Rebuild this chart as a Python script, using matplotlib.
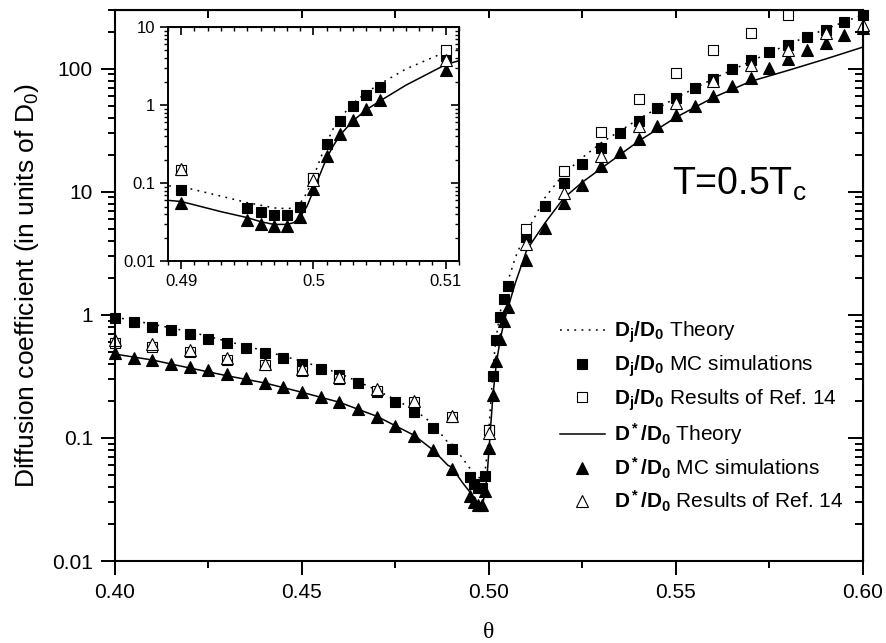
import numpy as np
import matplotlib
matplotlib.use("Agg")
import matplotlib.pyplot as plt
from matplotlib.ticker import LogLocator, MultipleLocator, NullFormatter

plt.rcParams['font.family'] = ['Liberation Sans', 'DejaVu Sans']
plt.rcParams['mathtext.fontset'] = 'custom'
plt.rcParams['mathtext.rm'] = 'Liberation Sans'
plt.rcParams['mathtext.it'] = 'Liberation Sans:italic'
plt.rcParams['mathtext.bf'] = 'Liberation Sans:bold'

# MC simulations (D_j/D_0 squares, D*/D_0 triangles)
theta_mc = [0.400, 0.405, 0.410, 0.415, 0.420, 0.425, 0.430, 0.435, 0.440, 0.445,
            0.450, 0.455, 0.460, 0.465, 0.470, 0.475, 0.480, 0.485, 0.490,
            0.495, 0.496, 0.497, 0.498, 0.499, 0.500, 0.501, 0.502, 0.503, 0.504, 0.505,
            0.510, 0.515, 0.520, 0.525, 0.530, 0.535, 0.540, 0.545, 0.550, 0.555,
            0.560, 0.565, 0.570, 0.575, 0.580, 0.585, 0.590, 0.595, 0.600]
dj_mc = [0.94, 0.88, 0.80, 0.755, 0.70, 0.64, 0.59, 0.54, 0.49, 0.45,
         0.40, 0.36, 0.325, 0.279, 0.235, 0.197, 0.161, 0.12, 0.081,
         0.048, 0.0425, 0.039, 0.039, 0.049, 0.115, 0.32, 0.62, 0.97, 1.34, 1.72,
         4.3, 7.6, 11.9, 16.9, 22.6, 30.0, 37.3, 47.9, 57.8, 69.7,
         82.4, 99.5, 117, 138, 157, 181, 208, 238, 275]
ds_mc = [0.49, 0.45, 0.43, 0.40, 0.376, 0.357, 0.33, 0.305, 0.282, 0.261,
         0.238, 0.217, 0.197, 0.171, 0.149, 0.125, 0.103, 0.080, 0.056,
         0.034, 0.030, 0.0284, 0.0284, 0.037, 0.083, 0.224, 0.42, 0.64, 0.89, 1.16,
         2.8, 5.1, 8.1, 11.4, 16.1, 20.9, 26.8, 34.4, 42.3, 50.0,
         60.3, 72.8, 84, 101, 120, 141, 162, 189, 214]

# Results of Ref. 14
theta_ref_j = [0.40, 0.41, 0.42, 0.43, 0.44, 0.45, 0.46, 0.47, 0.48, 0.49,
               0.50, 0.51, 0.52, 0.53, 0.54, 0.55, 0.56, 0.57, 0.58]
dj_ref = [0.59, 0.55, 0.50, 0.43, 0.39, 0.35, 0.30, 0.24, 0.195, 0.148,
          0.115, 5.0, 14.9, 30.9, 56.8, 93, 143, 197, 275]
theta_ref_s = [0.40, 0.41, 0.42, 0.43, 0.44, 0.45, 0.46, 0.47, 0.48, 0.49,
               0.50, 0.51, 0.52, 0.53, 0.54, 0.55, 0.56, 0.57, 0.58, 0.59, 0.60]
ds_ref = [0.62, 0.575, 0.52, 0.45, 0.40, 0.36, 0.31, 0.25, 0.20, 0.152,
          0.11, 3.8, 9.8, 19.4, 34, 52.6, 78.9, 108, 143, 195, 228]

# Theory curves
theta_th = [0.400, 0.410, 0.420, 0.430, 0.440, 0.450, 0.460, 0.470, 0.480, 0.485,
            0.489, 0.490, 0.493, 0.495, 0.496, 0.497, 0.498, 0.4985, 0.499, 0.4995,
            0.500, 0.5005, 0.501, 0.5015, 0.502, 0.503, 0.504, 0.505, 0.507, 0.510,
            0.511, 0.515, 0.520, 0.525, 0.530, 0.540, 0.550, 0.560, 0.570, 0.580,
            0.590, 0.600]
dj_th = [0.96, 0.84, 0.73, 0.61, 0.51, 0.42, 0.335, 0.245, 0.17, 0.13,
         0.092, 0.09, 0.068, 0.056, 0.052, 0.048, 0.047, 0.048, 0.055, 0.075,
         0.12, 0.20, 0.33, 0.50, 0.68, 1.05, 1.45, 1.85, 2.9, 4.8,
         5.3, 9.0, 14.0, 19.0, 25.0, 39.0, 58.0, 83.0, 115, 158,
         210, 275]
ds_th = [0.48, 0.43, 0.37, 0.32, 0.28, 0.235, 0.195, 0.15, 0.105, 0.08,
         0.060, 0.058, 0.043, 0.036, 0.032, 0.0295, 0.0295, 0.031, 0.037, 0.05,
         0.08, 0.13, 0.21, 0.30, 0.41, 0.63, 0.87, 1.12, 1.8, 3.3,
         3.7, 5.6, 8.9, 12.0, 15.5, 25.8, 40.3, 58.4, 79, 97,
         120, 150]


def draw_data(a, msq, mtri, clip):
    a.plot(theta_th, dj_th, color='black', lw=1.1, ls=(0, (1.2, 3.5)), label=r'$\mathbf{D_j/D_0}$ Theory')
    a.plot(theta_mc, dj_mc, 's', color='black', ms=msq, mec='black', mew=0.8, clip_on=clip,
           label=r'$\mathbf{D_j/D_0}$ MC simulations')
    a.plot(theta_ref_j, dj_ref, 's', mfc='white', mec='black', ms=msq, mew=0.8, clip_on=clip,
           label=r'$\mathbf{D_j/D_0}$ Results of Ref. 14')
    a.plot(theta_th, ds_th, '-', color='black', lw=1.1, label=r'$\mathbf{D^*/D_0}$ Theory')
    a.plot(theta_mc, ds_mc, '^', color='black', ms=mtri, mec='black', mew=0.8, clip_on=clip,
           label=r'$\mathbf{D^*/D_0}$ MC simulations')
    a.plot(theta_ref_s, ds_ref, '^', mfc='white', mec='black', ms=mtri, mew=0.8, clip_on=clip,
           label=r'$\mathbf{D^*/D_0}$ Results of Ref. 14')


fig = plt.figure(figsize=(8.86, 6.43), dpi=100)
ax = fig.add_axes([0.1298, 0.1275, 0.8442, 0.8569])
draw_data(ax, 7.5, 9, False)
ax.set_yscale('log')
ax.set_xlim(0.40, 0.60)
ax.set_ylim(0.01, 300)
ax.set_xticks([0.40, 0.45, 0.50, 0.55, 0.60])
ax.set_xticklabels(['0.40', '0.45', '0.50', '0.55', '0.60'])
ax.xaxis.set_minor_locator(MultipleLocator(0.025))
ax.set_yticks([0.01, 0.1, 1, 10, 100])
ax.set_yticklabels(['0.01', '0.1', '1', '10', '100'])
ax.yaxis.set_minor_locator(LogLocator(base=10, subs=np.arange(2, 10)))
ax.yaxis.set_minor_formatter(NullFormatter())
ax.tick_params(which='major', direction='out', length=10, width=1.4, labelsize=15, pad=6)
ax.tick_params(which='minor', direction='out', length=5, width=1.4)
for s in ax.spines.values():
    s.set_linewidth(1.5)

# inward ticks on top and right
secx = ax.secondary_xaxis('top')
secx.set_xticks([0.40, 0.45, 0.50, 0.55, 0.60])
secx.xaxis.set_minor_locator(MultipleLocator(0.025))
secx.tick_params(which='both', direction='in', length=6, width=1.4, labeltop=False)
secy = ax.secondary_yaxis('right')
secy.set_yticks([0.01, 0.1, 1, 10, 100])
secy.yaxis.set_minor_locator(LogLocator(base=10, subs=np.arange(2, 10)))
secy.yaxis.set_minor_formatter(NullFormatter())
secy.tick_params(which='major', direction='in', length=11, width=1.4, labelright=False)
secy.tick_params(which='minor', direction='in', length=6, width=1.4)

ax.set_xlabel('θ', fontfamily='Liberation Serif', fontsize=17, labelpad=14)
ax.set_ylabel(r'Diffusion coefficient (in units of D$_0$)', fontsize=19, labelpad=8)

ax.text(0.549, 9.5, r'T=0.5T$_\mathrm{c}$', fontsize=27)

ax.legend(loc='upper left', bbox_to_anchor=(0.572, 0.468), frameon=False, fontsize=15,
          handlelength=2.2, handletextpad=0.4, labelspacing=0.4, borderpad=0.3)

# inset around theta = 0.5
axin = fig.add_axes([0.1896, 0.594, 0.3284, 0.364])
draw_data(axin, 6.5, 8, True)
axin.set_yscale('log')
axin.set_xlim(0.489, 0.511)
axin.set_ylim(0.01, 10)
axin.set_xticks([0.49, 0.50, 0.51])
axin.set_xticklabels(['0.49', '0.5', '0.51'])
axin.xaxis.set_minor_locator(MultipleLocator(0.001))
axin.set_yticks([0.01, 0.1, 1, 10])
axin.set_yticklabels(['0.01', '0.1', '1', '10'])
axin.yaxis.set_minor_locator(LogLocator(base=10, subs=np.arange(2, 10)))
axin.yaxis.set_minor_formatter(NullFormatter())
axin.tick_params(which='major', direction='out', length=6, width=1.2, labelsize=12, pad=3)
axin.tick_params(which='minor', direction='out', length=3, width=1.0)
for s in axin.spines.values():
    s.set_linewidth(1.4)
sx2 = axin.secondary_xaxis('top')
sx2.set_xticks([0.49, 0.50, 0.51])
sx2.xaxis.set_minor_locator(MultipleLocator(0.001))
sx2.tick_params(which='major', direction='in', length=6, width=1.2, labeltop=False)
sx2.tick_params(which='minor', direction='in', length=3, width=1.0)
sy2 = axin.secondary_yaxis('right')
sy2.set_yticks([0.01, 0.1, 1, 10])
sy2.yaxis.set_minor_locator(LogLocator(base=10, subs=np.arange(2, 10)))
sy2.yaxis.set_minor_formatter(NullFormatter())
sy2.tick_params(which='major', direction='in', length=6, width=1.2, labelright=False)
sy2.tick_params(which='minor', direction='in', length=3, width=1.0)

fig.savefig('out.png', dpi=100)
